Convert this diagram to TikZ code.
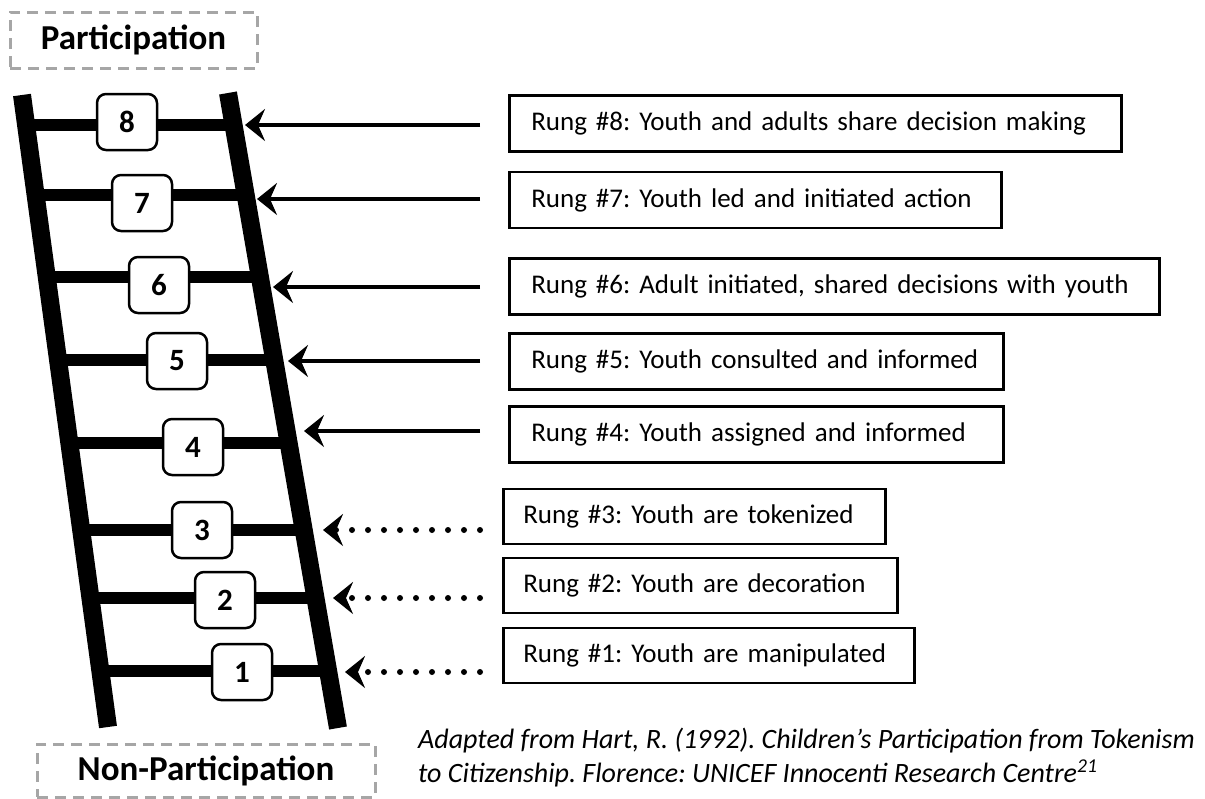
\documentclass[tikz,border=0pt]{standalone}
\usepackage{fontspec}
\setmainfont{Carlito}
\usetikzlibrary{arrows.meta}

\tikzset{
rail/.style={line width=18pt},
rung/.style={line width=12pt},
num/.style={draw,fill=white,rounded corners=9pt,line width=2.5pt,minimum width=60pt,minimum height=56pt,inner sep=0pt,font=\fontsize{31}{33}\selectfont\bfseries},
lab/.style={draw,line width=2.5pt,anchor=west,inner xsep=22pt,minimum height=56pt,text width=#1,align=left,font=\fontsize{27}{30}\selectfont},
lowlab/.style={lab=#1,inner xsep=20pt,minimum height=55pt},
pole/.style={draw=gray!70,line width=3pt,dash pattern=on 11pt off 7pt,inner sep=0pt,font=\fontsize{35}{38}\selectfont\bfseries},
arr/.style={line width=4.5pt,-{Stealth[length=20pt,width=32pt,inset=7pt]}},
dotarr/.style={arr,line width=6pt,line cap=round,dash pattern=on 0pt off 16pt}
}

\begin{document}
\frenchspacing
\begin{tikzpicture}[x=1pt,y=-1pt]
\useasboundingbox (0,0) rectangle (1205,798);
\coordinate (lt) at (22,95);
\coordinate (lb) at (108,727);
\coordinate (rt) at (228,93);
\coordinate (rb) at (338,728);
\path[draw,rung] (26,125)--(233,125);
\path[draw,rung] (36,195)--(246,195);
\path[draw,rung] (47,277)--(260,277);
\path[draw,rung] (58,360)--(274,360);
\path[draw,rung] (69,443)--(289,443);
\path[draw,rung] (81,530)--(304,530);
\path[draw,rung] (90,598)--(315,598);
\path[draw,rung] (100,671)--(328,671);
\path[draw,rail] (lt)--(lb);
\path[draw,rail] (rt)--(rb);
\node[num] (n8) at (127,122) {8};
\node[num] (n7) at (142,203) {7};
\node[num] (n6) at (159,285) {6};
\node[num] (n5) at (177,361) {5};
\node[num] (n4) at (193,447) {4};
\node[num] (n3) at (202,530) {3};
\node[num] (n2) at (225,600) {2};
\node[num] (n1) at (242,672) {1};
\node[lab=568pt] (r8) at (508,123.5) {Rung \#8: Youth and adults share decision making};
\node[lab=448pt] (r7) at (508,200) {Rung \#7: Youth led and initiated action};
\node[lab=606pt] (r6) at (508,286.5) {Rung \#6: Adult initiated, shared decisions with youth};
\node[lab=450pt] (r5) at (508,361.5) {Rung \#5: Youth consulted and informed};
\node[lab=450pt] (r4) at (508,434.5) {Rung \#4: Youth assigned and informed};
\node[lowlab=342pt] (r3) at (502,516.5) {Rung \#3: Youth are tokenized};
\node[lowlab=354pt] (r2) at (502,585.5) {Rung \#2: Youth are decoration};
\node[lowlab=371pt] (r1) at (502,655.5) {Rung \#1: Youth are manipulated};
\coordinate (t8) at (480,125);
\coordinate (h8) at (245,125);
\coordinate (t7) at (480,199);
\coordinate (h7) at (257,199);
\coordinate (t6) at (480,287);
\coordinate (h6) at (273,287);
\coordinate (t5) at (480,361);
\coordinate (h5) at (288,361);
\coordinate (t4) at (480,431);
\coordinate (h4) at (304,431);
\coordinate (t3) at (480,530);
\coordinate (h3) at (323,530);
\coordinate (t2) at (480,598);
\coordinate (h2) at (333,598);
\coordinate (t1) at (480,672);
\coordinate (h1) at (345,672);
\path[draw,arr] (t8)--(h8);
\path[draw,arr] (t7)--(h7);
\path[draw,arr] (t6)--(h6);
\path[draw,arr] (t5)--(h5);
\path[draw,arr] (t4)--(h4);
\path[draw,dotarr] (t3)--(h3);
\path[draw,dotarr] (t2)--(h2);
\path[draw,dotarr] (t1)--(h1);
\node[pole,minimum width=247pt,minimum height=56pt] (top) at (133.5,40) {Participation};
\node[pole,minimum width=338pt,minimum height=53pt] (bottom) at (206,770.5) {Non-Participation};
\node[anchor=base west,inner sep=0pt,font=\fontsize{28}{30}\selectfont\itshape] (cap1) at (418,748) {Adapted from Hart, R. (1992). Children’s Participation from Tokenism};
\node[anchor=base west,inner sep=0pt,font=\fontsize{28}{30}\selectfont\itshape] (cap2) at (418,782) {to Citizenship. Florence: UNICEF Innocenti Research Centre\textsuperscript{21}};
\end{tikzpicture}
\end{document}
